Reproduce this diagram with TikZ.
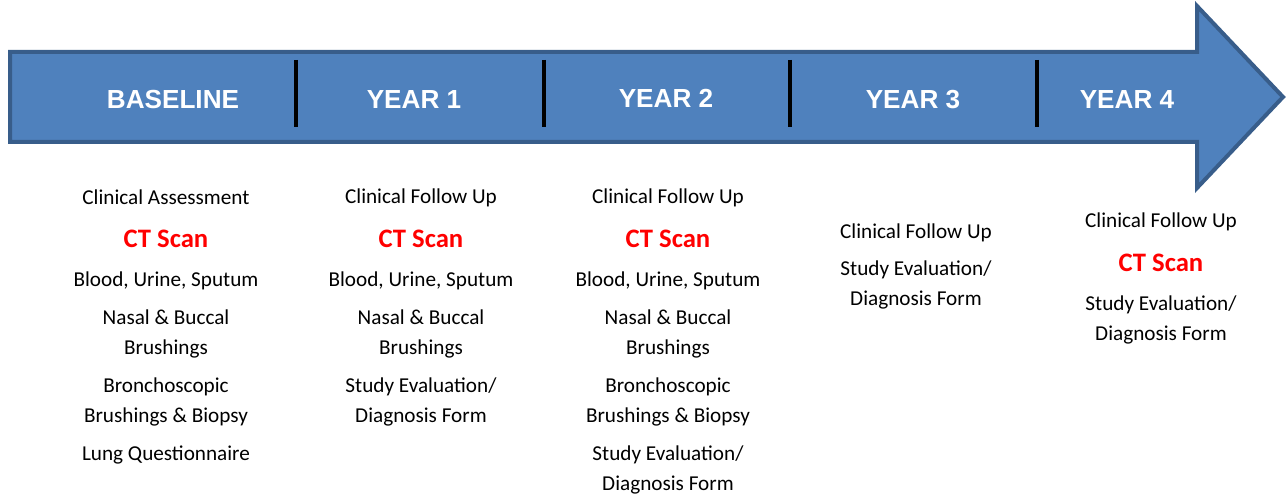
\documentclass[tikz,border=0pt]{standalone}
\usepackage{fontspec}
\setmainfont{Carlito}
\newfontfamily\headfont{Liberation Sans}
\usepackage{tikz}

\definecolor{arrowfill}{HTML}{4F81BD}
\definecolor{arrowedge}{HTML}{385D8A}
\definecolor{scanred}{HTML}{FF0000}

\tikzset{
  yearlabel/.style={text=white, font=\headfont\bfseries\fontsize{19.6pt}{22pt}\selectfont, inner sep=0pt},
  item/.style={align=center, inner sep=0pt, font=\fontsize{15.9pt}{22.5pt}\selectfont},
  ctscan/.style={inner sep=0pt, text=scanred, font=\bfseries\fontsize{20pt}{24pt}\selectfont},
}

\begin{document}
\begin{tikzpicture}[x=0.75pt, y=-0.75pt]
            \useasboundingbox (0,0) rectangle (1286,495);

            % draw timeline arrow
            \filldraw[fill=arrowfill, draw=arrowedge, line width=3pt, line join=miter]
            (10,52) -- (1197,52) -- (1197,6) -- (1283,97) -- (1197,188)
                    -- (1197,142) -- (10,142) -- cycle;

            % draw dividers
            \draw[color=black, line width=3pt] (296,60) -- (296,127);
            \draw[color=black, line width=3pt] (544,60) -- (544,127);
            \draw[color=black, line width=3pt] (790,60) -- (790,127);
            \draw[color=black, line width=3pt] (1037,60) -- (1037,127);

            % draw year labels
            \node[yearlabel] (base)  at (173,100) {BASELINE};
            \node[yearlabel] (year1) at (414,100) {YEAR 1};
            \node[yearlabel] (year2) at (666,98)  {YEAR 2};
            \node[yearlabel] (year3) at (913,100) {YEAR 3};
            \node[yearlabel] (year4) at (1127,100) {YEAR 4};

            % baseline column
            \node[item]   (b-clin)  at (166,197) {Clinical Assessment};
            \node[ctscan] (b-ct)    at (166,239) {CT Scan};
            \node[item]   (b-blood) at (166,281) {Blood, Urine, Sputum};
            \node[item]   (b-nasal) at (166,334) {Nasal \& Buccal\\Brushings};
            \node[item]   (b-bron)  at (166,402) {Bronchoscopic\\Brushings \& Biopsy};
            \node[item]   (b-lung)  at (166,455) {Lung Questionnaire};

            % year 1 column
            \node[item]   (y1-clin)  at (421,198) {Clinical Follow Up};
            \node[ctscan] (y1-ct)    at (421,239) {CT Scan};
            \node[item]   (y1-blood) at (421,281) {Blood, Urine, Sputum};
            \node[item]   (y1-nasal) at (421,334) {Nasal \& Buccal\\Brushings};
            \node[item]   (y1-eval)  at (421,402) {Study Evaluation/\\Diagnosis Form};

            % year 2 column
            \node[item]   (y2-clin)  at (668,198) {Clinical Follow Up};
            \node[ctscan] (y2-ct)    at (668,239) {CT Scan};
            \node[item]   (y2-blood) at (668,281) {Blood, Urine, Sputum};
            \node[item]   (y2-nasal) at (668,334) {Nasal \& Buccal\\Brushings};
            \node[item]   (y2-bron)  at (668,402) {Bronchoscopic\\Brushings \& Biopsy};
            \node[item]   (y2-eval)  at (668,470) {Study Evaluation/\\Diagnosis Form};

            % year 3 column
            \node[item]   (y3-clin)  at (916,233) {Clinical Follow Up};
            \node[item]   (y3-eval)  at (916,285) {Study Evaluation/\\Diagnosis Form};

            % year 4 column
            \node[item]   (y4-clin)  at (1161,222) {Clinical Follow Up};
            \node[ctscan] (y4-ct)    at (1161,263) {CT Scan};
            \node[item]   (y4-eval)  at (1161,320) {Study Evaluation/\\Diagnosis Form};
\end{tikzpicture}
\end{document}
